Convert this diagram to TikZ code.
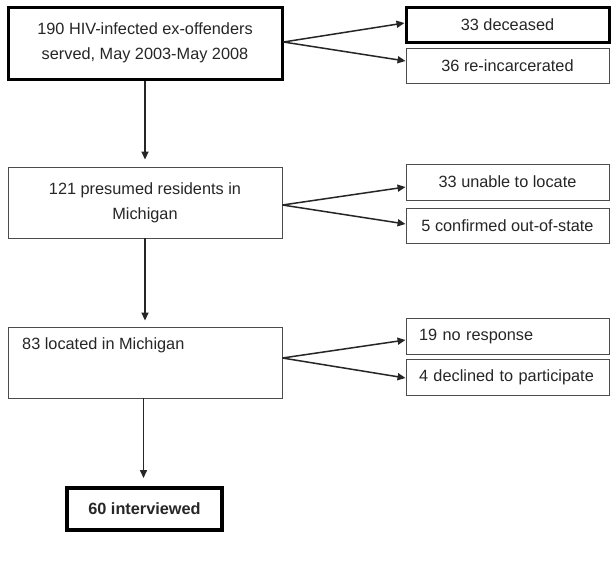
\documentclass[tikz,border=0pt]{standalone}
\usepackage{fontspec}
\setmainfont{Liberation Sans}
\usetikzlibrary{arrows.meta}
\begin{document}
\begin{tikzpicture}[x=1pt,y=-1pt,
  every node/.style={font=\fontsize{16.3}{25}\selectfont, text=black!85},
  mainbox/.style={draw=black!70, line width=0.9pt, minimum width=274pt, minimum height=71pt, align=center, inner sep=0pt},
  thickbox/.style={draw=black, line width=3pt},
  sidebox/.style={draw=black!70, line width=0.9pt, minimum width=203pt, minimum height=36pt, inner sep=0pt, align=center},
  leftside/.style={sidebox, text width=177pt, inner xsep=13pt, align=left},
  flow/.style={draw=black!85, line width=1.5pt, -{Triangle[length=8pt,width=7pt]}}
]
\useasboundingbox (0,0) rectangle (616,566);
\fill[white] (0,0) rectangle (616,566);

% left column
\node[mainbox, thickbox, minimum height=72pt] (b1) at (145,43) {190 HIV-infected ex-offenders\\served, May 2003-May 2008};
\node[mainbox] (b2) at (145,202.5) {121 presumed residents in\\Michigan};
\node[mainbox] (b3) at (145,362.5) {};
\node[anchor=west, inner sep=0pt] (t3) at (22,345) {83 located in Michigan};
\node[draw=black, line width=4pt, minimum width=155pt, minimum height=42pt, inner sep=0pt, font=\fontsize{16.3}{25}\selectfont\bfseries] (b4) at (144.5,509) {60 interviewed};

% right column
\node[sidebox, thickbox, minimum height=35pt] (r1) at (507.5,24.5) {33 deceased};
\node[sidebox, minimum height=35pt] (r2) at (507.5,65.5) {36 re-incarcerated};
\node[sidebox] (r3) at (507.5,182) {33 unable to locate};
\node[sidebox, minimum height=35pt] (r4) at (507.5,225.5) {5 confirmed out-of-state};
\node[leftside] (r5) at (507.5,336) {19 no response};
\node[leftside] (r6) at (507.5,377) {4 declined to participate};

% side arrows
\coordinate (o1) at ([yshift=1pt]b1.east);
\coordinate (o2) at ([yshift=-2.5pt]b2.east);
\coordinate (o3) at ([yshift=4.5pt]b3.east);
\draw[flow] (o1) -- ([yshift=1.5pt]r1.west);
\draw[flow] (o1) -- ([yshift=4.5pt]r2.west);
\draw[flow] (o2) -- ([yshift=-5pt]r3.west);
\draw[flow] (o2) -- ([yshift=1.5pt]r4.west);
\draw[flow] (o3) -- ([yshift=-4pt]r5.west);
\draw[flow] (o3) -- ([yshift=-1pt]r6.west);

% down arrows
\draw[flow] (b1.south) -- ([yshift=7pt]b2.north);
\draw[flow] (b2.south) -- ([yshift=6pt]b3.north);
\draw[flow] ([xshift=-1.5pt]b3.south) -- ([yshift=8pt,xshift=-1pt]b4.north);
\end{tikzpicture}
\end{document}
